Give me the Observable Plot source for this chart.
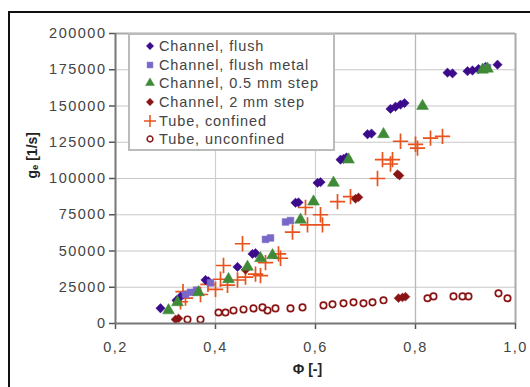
<!DOCTYPE html>
<html>
<head>
<meta charset="utf-8">
<script src="https://cdn.jsdelivr.net/npm/d3@7"></script>
<script src="https://cdn.jsdelivr.net/npm/@observablehq/plot@0.6"></script>
<style>
  html, body { margin: 0; padding: 0; background: #fff; overflow: hidden; }
  #wrap { position: relative; width: 530px; height: 387px; }
  #frame { position: absolute; left: 8px; top: 11px; width: 540px; height: 400px; border: 2px solid #111; box-sizing: border-box; pointer-events: none; }
  #legend { position: absolute; left: 128px; top: 33px; width: 207px; height: 118px; background: #fff; border: 2px solid #bbb; box-sizing: border-box; font: 14.5px "Liberation Sans", Arial, sans-serif; letter-spacing: 0.9px; color: #444; padding-top: 2px; }
  #legend .row { display: flex; align-items: center; height: 18.6px; padding-left: 14px; white-space: nowrap; }
  #legend svg { width: 12px; height: 12px; margin-right: 3px; }
  #chart { position: absolute; left: 0; top: 0; }
  #chart svg g[aria-label$="tick label"] text { letter-spacing: 1.5px; }
</style>
</head>
<body>
<div id="wrap">
  <div id="chart"></div>
  <div id="legend"></div>
  <div id="frame"></div>
</div>
<script>
// ---------- data ----------
const seriesNames = ["Channel, flush", "Channel, flush metal", "Channel, 0.5 mm step", "Channel, 2 mm step", "Tube, confined", "Tube, unconfined"];

const flushX = [0.290, 0.322, 0.330, 0.380, 0.386, 0.444, 0.474, 0.480, 0.560, 0.566, 0.604, 0.610, 0.650, 0.656, 0.662, 0.704, 0.712, 0.750, 0.760, 0.770, 0.778, 0.864, 0.874, 0.904, 0.914, 0.926, 0.940, 0.964];
const flushY = [10500, 16000, 18500, 30000, 29000, 39000, 48000, 48500, 83300, 83500, 97000, 97500, 113000, 113500, 114500, 130500, 131000, 148000, 149500, 151000, 152000, 173000, 172500, 174000, 174500, 175500, 177000, 178500];

const metalX = [0.340, 0.350, 0.362, 0.390, 0.500, 0.510, 0.540, 0.550, 0.944];
const metalY = [20000, 21500, 23000, 28000, 58000, 59000, 70000, 71000, 176500];

const stepX = [0.306, 0.324, 0.366, 0.426, 0.464, 0.490, 0.514, 0.570, 0.596, 0.636, 0.666, 0.736, 0.814, 0.934, 0.944];
const stepY = [9000, 14600, 21500, 30500, 39000, 45000, 47000, 71500, 84000, 97000, 113000, 130500, 150000, 175000, 175700];

const step2X = [0.320, 0.326, 0.460, 0.680, 0.686, 0.764, 0.768, 0.766, 0.774, 0.780];
const step2Y = [2800, 3500, 37000, 86000, 87000, 103000, 102000, 17500, 18000, 18500];

const confX = [0.330, 0.335, 0.340, 0.370, 0.385, 0.400, 0.410, 0.416, 0.424, 0.444, 0.454, 0.460, 0.480, 0.490, 0.500, 0.526, 0.530, 0.554, 0.584, 0.614, 0.580, 0.610, 0.644, 0.670, 0.724, 0.734, 0.754, 0.750, 0.770, 0.800, 0.804, 0.830, 0.854];
const confY = [15000, 22000, 17500, 20000, 27000, 23600, 30500, 40000, 26400, 30000, 55000, 32000, 34000, 33000, 42000, 48000, 45000, 63000, 68000, 68000, 80000, 75000, 84000, 87500, 100000, 113000, 113000, 110000, 125700, 123600, 121000, 127800, 129000];

const unconfX = [0.344, 0.370, 0.406, 0.420, 0.436, 0.456, 0.476, 0.494, 0.504, 0.520, 0.550, 0.574, 0.616, 0.634, 0.656, 0.676, 0.696, 0.714, 0.736, 0.824, 0.836, 0.876, 0.894, 0.906, 0.966, 0.984];
const unconfY = [2800, 2800, 7600, 7600, 9000, 9700, 10400, 11100, 9000, 10400, 10400, 11100, 12500, 13200, 13900, 14600, 13900, 14600, 16000, 17400, 18700, 18700, 18700, 18700, 20800, 17400];

const xTicks = [0.2, 0.4, 0.6, 0.8, 1.0];
const yTicks = [0, 25000, 50000, 75000, 100000, 125000, 150000, 175000, 200000];
const xLabel = "Φ [-]";
const yLabel = "gₑ [1/s]";

// ---------- styles ----------
const colors = ["#3b0b8c", "#7a68c8", "#3f8a36", "#8a1414", "#e8521c", "#8a1414"];
const symbols = ["diamond2", "square", "triangle", "diamond2", "plus", "circle"];
const filled = [true, true, true, true, false, false];
const sizes = [4.2, 3.8, 4.4, 4.0, 5.0, 3.2];

const pairs = [[flushX, flushY], [metalX, metalY], [stepX, stepY], [step2X, step2Y], [confX, confY], [unconfX, unconfY]];
const tables = pairs.map(([xs, ys]) => xs.map((x, i) => ({x, y: ys[i]})));

const fmtX = d => d3.format(".1f")(d).replace(".", ",");

const marks = [
  Plot.ruleY(yTicks.filter(d => d > 0), {stroke: "#c8c8c8", strokeWidth: 1.2}),
  Plot.ruleX([0.4, 0.6, 0.8], {stroke: "#d0d0d0", strokeWidth: 1.2}),
  Plot.ruleX([0.8], {stroke: "#b8b8b8", strokeWidth: 1.2}),
  Plot.ruleX([1.0], {stroke: "#aaa", strokeWidth: 2}),
  Plot.ruleY([200000], {stroke: "#aaa", strokeWidth: 2}),
];
[5, 4, 3, 0, 1, 2].forEach(k => {
  marks.push(Plot.dot(tables[k], {
    x: "x", y: "y", symbol: symbols[k], r: sizes[k],
    fill: filled[k] ? colors[k] : "none",
    stroke: colors[k],
    strokeWidth: filled[k] ? 0.5 : 1.7
  }));
});
marks.push(
  Plot.ruleX([0.2], {stroke: "#777", strokeWidth: 2}),
  Plot.ruleY([0], {stroke: "#777", strokeWidth: 2}),
  Plot.text([xLabel], {frameAnchor: "bottom", dy: 50, dx: -8, fill: "#222", fontSize: 14, fontWeight: "bold"}),
  Plot.text([yLabel], {frameAnchor: "left", dx: -83, rotate: -90, fill: "#222", fontSize: 14, fontWeight: "bold"})
);

const chart = Plot.plot({
  width: 530,
  height: 387,
  marginLeft: 115,
  marginRight: 15,
  marginTop: 33,
  marginBottom: 64,
  style: {fontFamily: "'Liberation Sans', Arial, sans-serif", fontSize: "14.5px", color: "#444", background: "transparent"},
  x: {type: "linear", domain: [0.2, 1.0], ticks: xTicks, tickFormat: fmtX, tickSize: 6, tickPadding: 12, label: null},
  y: {type: "linear", domain: [0, 200000], ticks: yTicks, tickFormat: d => String(d), tickSize: 6, tickPadding: 3, label: null},
  marks
});
chart.querySelectorAll('[aria-label="y-axis tick"] path, [aria-label="x-axis tick"] path').forEach(p => { p.setAttribute("stroke", "#555"); p.setAttribute("stroke-width", "1.5"); });
document.getElementById("chart").appendChild(chart);

// ---------- legend ----------
const legend = document.getElementById("legend");
const symMap = {diamond2: d3.symbolDiamond2, square: d3.symbolSquare, triangle: d3.symbolTriangle, plus: d3.symbolPlus, circle: d3.symbolCircle};
seriesNames.forEach((name, k) => {
  const row = document.createElement("div");
  row.className = "row";
  const path = d3.symbol(symMap[symbols[k]], symbols[k] === "plus" ? 70 : (symbols[k] === "circle" ? 26 : 34))();
  row.innerHTML = `<svg viewBox="-6 -6 12 12"><path d="${path}" fill="${filled[k] ? colors[k] : "none"}" stroke="${colors[k]}" stroke-width="${filled[k] ? 0.5 : 1.5}"/></svg><span>${name}</span>`;
  legend.appendChild(row);
});
</script>
</body>
</html>
